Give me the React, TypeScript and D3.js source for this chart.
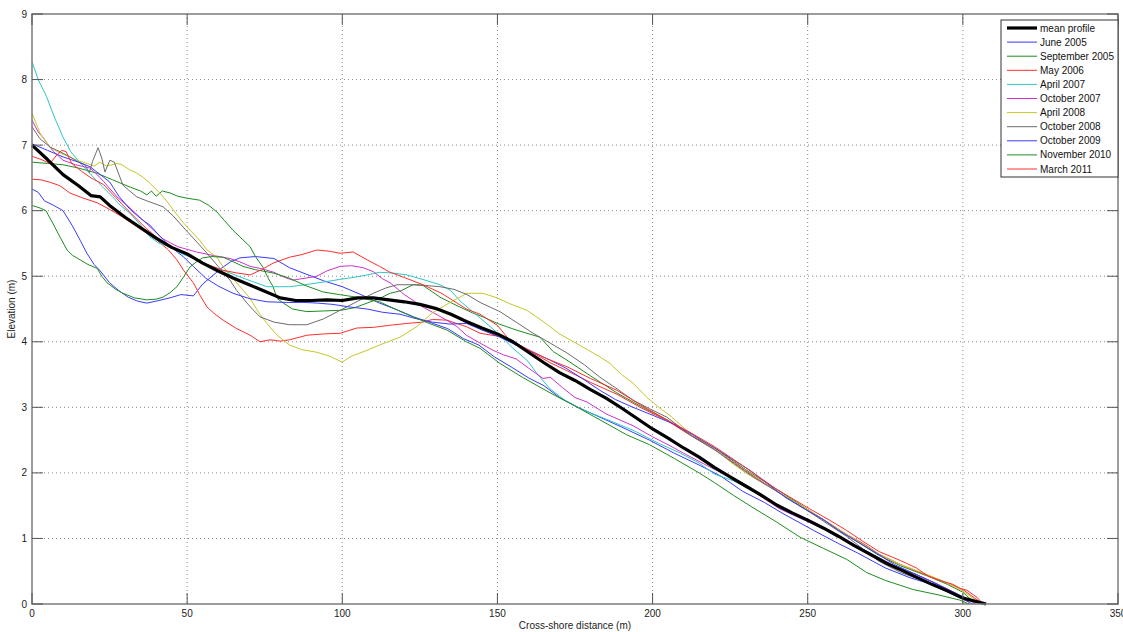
import React from "react";
import * as d3 from "d3";

type Pt = [number, number];

// Cross-shore beach profiles: [distance (m), elevation (m)]
const meanProfile: Pt[] = [[0,7.0],[5,6.78],[10,6.55],[15,6.38],[19,6.23],[22,6.21],[25,6.08],[30,5.9],[35,5.74],[40,5.58],[45,5.44],[50,5.34],[55,5.2],[60,5.08],[65,4.97],[70,4.87],[75,4.77],[80,4.67],[85,4.63],[90,4.63],[95,4.64],[100,4.63],[105,4.67],[110,4.67],[115,4.64],[120,4.61],[125,4.57],[130,4.51],[135,4.42],[140,4.31],[145,4.21],[150,4.12],[155,4.0],[160,3.84],[165,3.68],[170,3.53],[175,3.41],[180,3.27],[185,3.14],[190,2.99],[195,2.83],[200,2.67],[205,2.53],[210,2.38],[215,2.24],[220,2.08],[225,1.94],[230,1.8],[235,1.66],[240,1.51],[245,1.39],[250,1.28],[255,1.16],[260,1.03],[265,0.89],[270,0.76],[275,0.63],[280,0.52],[285,0.41],[290,0.3],[295,0.2],[300,0.09],[305,0.03],[307.5,0]];

const june2005: Pt[] = [[0,6.33],[2,6.28],[4,6.15],[7,6.08],[10,6.0],[13,5.77],[15.5,5.55],[17.7,5.35],[20,5.18],[22,5.08],[25,4.9],[28,4.78],[31,4.68],[34,4.62],[37,4.59],[40,4.62],[44.5,4.67],[48,4.72],[52,4.7],[55,4.88],[58,5.0],[61,5.12],[64,5.22],[67,5.28],[72,5.3],[78,5.27],[83,5.13],[89,5.02],[94,4.93],[100,4.84],[106,4.72],[112,4.59],[117,4.5],[123,4.38],[128,4.3],[134,4.2],[139,4.05],[144,3.95],[149,3.77],[155,3.6],[160,3.45],[165,3.33],[170,3.15],[176,3.0],[183,2.85],[190,2.7],[199,2.5],[207,2.3],[215,2.12],[222,1.95],[229,1.72],[236,1.55],[242,1.38],[252,1.12],[260,0.92],[266,0.78],[275,0.55],[283,0.4],[290,0.3],[296,0.16],[301,0.05],[303,0]];

const september2005: Pt[] = [[0,6.74],[5,6.72],[10,6.7],[15,6.65],[21,6.57],[26,6.47],[31.6,6.36],[35,6.3],[37,6.24],[38.5,6.3],[40,6.22],[42,6.3],[44.5,6.27],[47,6.22],[50,6.19],[54,6.16],[57,6.08],[59.6,5.98],[62,5.85],[64.8,5.7],[67,5.6],[70.3,5.45],[72,5.3],[74.4,5.14],[76,4.98],[77.7,4.84],[79,4.66],[81,4.59],[84,4.5],[88.6,4.46],[94,4.47],[99.3,4.48],[104,4.52],[108,4.59],[112,4.66],[115.4,4.74],[119,4.78],[122.8,4.87],[126,4.86],[131.5,4.68],[137,4.55],[142,4.44],[145.3,4.38],[150,4.28],[156,4.18],[163.7,4.07],[168,3.85],[172.4,3.72],[180,3.48],[188.5,3.22],[196,3.02],[204.6,2.81],[212,2.58],[220,2.38],[230,2.05],[240,1.75],[250.7,1.42],[262.6,1.05],[273,0.74],[280,0.58],[289,0.42],[295,0.3],[300,0.18],[303,0.05]];

const may2006: Pt[] = [[0,6.48],[3,6.47],[6,6.43],[9,6.38],[12.2,6.27],[16,6.2],[21,6.12],[25,6.02],[29.3,5.9],[34,5.75],[40.3,5.55],[44,5.4],[46.7,5.25],[49,5.08],[52,4.9],[54,4.72],[56.4,4.53],[59,4.42],[61.6,4.33],[66,4.2],[70.3,4.1],[73.5,4.0],[76.7,4.03],[80,4.01],[83,4.03],[88.6,4.1],[94,4.12],[99.3,4.13],[104.7,4.21],[110,4.22],[115,4.25],[120.8,4.28],[126,4.3],[129,4.34],[133.7,4.33],[140,4.23],[144.4,4.13],[150.8,4.08],[156,3.98],[161.5,3.83],[167,3.68],[172.4,3.56],[180,3.38],[188.5,3.2],[196,3.0],[204.6,2.8],[212,2.58],[220,2.36],[230,2.03],[240,1.72],[250.7,1.41],[258,1.2],[262.6,1.06],[268,0.92],[273,0.76],[280,0.6],[289,0.43],[295,0.32],[300,0.22],[305,0.05],[306,0]];

const april2007: Pt[] = [[0,8.27],[2,8.0],[4.7,7.74],[7,7.45],[10,7.12],[12.5,6.9],[15.5,6.73],[18,6.6],[21,6.45],[23,6.35],[26,6.21],[28.5,6.08],[31.6,5.96],[35,5.78],[38,5.6],[41,5.5],[44.5,5.45],[48,5.35],[53,5.25],[58,5.15],[63.8,5.05],[67,4.99],[71,4.92],[75.7,4.84],[80,4.84],[83,4.84],[88,4.87],[93.8,4.91],[99,4.95],[104.7,4.99],[108,5.02],[112,5.06],[116,5.05],[120.8,5.02],[126,4.95],[131.5,4.87],[135,4.78],[138,4.62],[143,4.42],[146,4.3],[150.8,4.1],[155,3.9],[159.5,3.72],[163,3.5],[167,3.28],[172,3.1],[177.6,2.96],[185,2.82],[193.7,2.65],[202,2.45],[209,2.3],[215,2.15],[220,1.98],[226,1.88],[233,1.72],[241,1.46],[248,1.3],[255,1.15],[262,0.98],[270,0.78],[278,0.58],[285,0.45],[292,0.3],[298,0.16],[302,0.04]];

const october2007: Pt[] = [[0,7.38],[2,7.2],[3.5,7.12],[4.8,7.03],[7,6.9],[10,6.77],[14,6.7],[18.7,6.65],[21,6.55],[23,6.45],[27.4,6.21],[31.6,6.04],[37,5.8],[42.2,5.57],[47,5.45],[53,5.37],[58,5.32],[63.8,5.27],[67,5.22],[70.3,5.15],[73.5,5.12],[78,5.06],[81,4.99],[84,4.94],[88,4.97],[91.8,5.0],[95,5.08],[99.3,5.15],[103,5.16],[106.7,5.13],[110,5.07],[113,4.96],[115.4,4.9],[120,4.72],[126,4.53],[131,4.4],[134.7,4.3],[137,4.23],[140,4.1],[144.4,3.98],[148.6,3.87],[152,3.8],[156,3.74],[160,3.6],[164.7,3.44],[167,3.46],[171,3.3],[175,3.15],[178.9,3.08],[185,2.9],[193.7,2.72],[200,2.55],[205,2.43],[210,2.3],[218,2.1],[226,1.92],[233,1.7],[241,1.45],[248,1.3],[255,1.15],[262,0.98],[270,0.78],[278,0.58],[285,0.45],[292,0.3],[298,0.16],[302,0.03]];

const april2008: Pt[] = [[0,7.49],[2.6,7.18],[5.8,6.97],[9,6.88],[12.2,6.82],[15,6.76],[17.7,6.72],[20,6.68],[21.9,6.74],[24,6.68],[27.4,6.72],[29,6.7],[31.6,6.62],[33.5,6.58],[35.8,6.51],[38,6.42],[40.3,6.31],[42.5,6.2],[44.5,6.08],[46.5,5.95],[48.7,5.82],[51,5.7],[54,5.55],[56.4,5.4],[59.6,5.29],[61.6,5.14],[65,4.95],[68,4.79],[70.3,4.66],[73,4.45],[75.7,4.28],[79,4.1],[83,3.95],[87,3.88],[91.8,3.84],[96,3.78],[99.9,3.69],[103,3.78],[108,3.87],[113,3.97],[118.6,4.07],[124,4.23],[129,4.44],[134,4.58],[140.2,4.74],[145.3,4.74],[149.9,4.67],[154,4.58],[159.5,4.48],[165,4.3],[170,4.12],[173.4,4.03],[179,3.88],[183,3.77],[186.3,3.67],[190,3.5],[193.7,3.37],[198,3.16],[202,3.0],[206,2.86],[211,2.65],[215,2.52],[220.7,2.35],[225,2.17],[230,2.0],[240,1.72],[250.7,1.42],[262.6,1.06],[273,0.76],[280,0.6],[289,0.44],[295,0.32],[300,0.2],[304,0.06],[305,0]];

const october2008: Pt[] = [[0,7.28],[2.5,7.1],[5.8,6.97],[9,6.9],[12.2,6.82],[15,6.74],[17,6.7],[18.5,6.58],[19.5,6.75],[21.3,6.96],[22.5,6.8],[23.5,6.59],[25.1,6.77],[26.5,6.74],[29.3,6.39],[31,6.32],[33.8,6.21],[37,6.15],[42.2,6.06],[45.5,5.92],[48.7,5.75],[52,5.58],[56.4,5.35],[60,5.15],[63.8,4.94],[66,4.78],[69.3,4.59],[71,4.5],[73.5,4.38],[78,4.3],[83,4.26],[88.6,4.26],[94,4.35],[99.3,4.48],[105,4.62],[110,4.74],[114,4.82],[117.6,4.87],[124,4.87],[131.5,4.84],[136,4.8],[140.2,4.72],[144.4,4.6],[150.8,4.46],[156,4.3],[161.5,4.13],[167,3.98],[172.4,3.83],[178,3.65],[183,3.46],[188,3.3],[193.7,3.11],[199,2.98],[204.6,2.85],[213,2.55],[220,2.35],[226,2.15],[233,1.92],[240,1.72],[250.7,1.4],[262.6,1.03],[273,0.65],[280,0.48],[289,0.32],[295,0.2],[300,0.1],[303,0.03],[304,0]];

const october2009: Pt[] = [[0,7.02],[5,6.92],[10,6.82],[15,6.74],[18.7,6.67],[22,6.55],[25,6.44],[28,6.22],[31.6,6.02],[35,5.88],[38,5.78],[41,5.62],[43.5,5.5],[46,5.4],[48.7,5.3],[52,5.15],[56,4.97],[60,4.85],[64.8,4.74],[70,4.66],[75.7,4.61],[82,4.6],[88,4.6],[92,4.59],[97,4.57],[102.5,4.53],[108,4.5],[113,4.45],[118.6,4.42],[124,4.35],[129,4.3],[134.7,4.27],[140,4.28],[145,4.18],[150.8,4.07],[156,3.95],[161,3.85],[167,3.72],[172,3.6],[178,3.42],[183,3.26],[188,3.12],[193.7,3.0],[200,2.88],[206.6,2.75],[213,2.58],[220,2.38],[226,2.2],[232,2.02],[238,1.8],[243,1.62],[249,1.45],[255,1.29],[260,1.12],[266,0.95],[272,0.78],[278,0.6],[284,0.47],[290,0.34],[296,0.2],[301,0.09],[304,0.02]];

const november2010: Pt[] = [[0,6.08],[2.6,6.04],[4.5,6.0],[6.8,5.8],[9,5.6],[11.3,5.4],[13,5.32],[15.5,5.25],[18,5.18],[21,5.12],[22.5,5.0],[24.2,4.9],[27,4.8],[29.3,4.74],[33,4.67],[37,4.64],[40,4.65],[42.2,4.68],[44.5,4.75],[46.7,4.84],[49,5.0],[50.9,5.14],[53,5.22],[55,5.28],[58,5.3],[61.6,5.29],[64,5.24],[68,5.15],[72,5.1],[77.7,5.05],[83,4.97],[88,4.86],[93.8,4.76],[99,4.72],[104.7,4.68],[112,4.61],[117,4.5],[122.8,4.38],[128,4.28],[133.7,4.18],[140,4.0],[144.4,3.9],[150.8,3.67],[158,3.46],[167,3.22],[175,3.02],[183,2.81],[191.7,2.58],[199,2.43],[207,2.22],[215,2.0],[220,1.85],[226,1.66],[232,1.48],[240,1.25],[247.5,1.02],[255,0.85],[262.6,0.68],[269,0.48],[275,0.36],[284,0.22],[292,0.14],[299,0.06],[302,0]];

const march2011: Pt[] = [[0,6.83],[3,6.78],[5.8,6.72],[8,6.85],[9.6,6.92],[11,6.9],[12.8,6.72],[16,6.6],[19,6.5],[23,6.4],[27,6.2],[31,6.0],[37,5.72],[42,5.52],[47,5.4],[53,5.25],[57,5.17],[61.6,5.09],[66,5.05],[70.3,5.02],[74,5.1],[77.7,5.2],[83,5.29],[87,5.33],[91.8,5.4],[96,5.38],[99.3,5.35],[103.5,5.37],[108,5.25],[112,5.15],[115.4,5.06],[120,4.98],[126,4.87],[132,4.74],[137,4.59],[140,4.5],[144.4,4.42],[150,4.25],[154,4.02],[160,3.88],[166,3.74],[172.4,3.62],[180,3.44],[188.5,3.26],[196,3.04],[204.6,2.81],[212,2.62],[220,2.4],[230,2.08],[240,1.75],[250.7,1.45],[257,1.28],[262.6,1.12],[268,0.95],[273,0.8],[280,0.66],[285,0.55],[289,0.42],[294,0.34],[296.8,0.3],[299,0.24],[301.3,0.21],[304.6,0.1],[306.5,0]];

const seriesNames = ["mean profile","June 2005","September 2005","May 2006","April 2007","October 2007","April 2008","October 2008","October 2009","November 2010","March 2011"];
const seriesData: Pt[][] = [meanProfile, june2005, september2005, may2006, april2007, october2007, april2008, october2008, october2009, november2010, march2011];
const seriesColors = ["#000000","#3a3aff","#1f8c1f","#ff2e2e","#2ec6c6","#cc33cc","#c6c62a","#6c6c6c","#3a3aff","#1f8c1f","#ff2e2e"];

const xTicks = [0, 50, 100, 150, 200, 250, 300, 350];
const yTicks = [0, 1, 2, 3, 4, 5, 6, 7, 8, 9];

const W = 1123, H = 632;
const left = 32, right = 1118, top = 14, bottom = 604;
const font = "'Liberation Sans', Arial, Helvetica, sans-serif";

export default function App() {
  const x = d3.scaleLinear().domain([0, 350]).range([left, right]);
  const y = d3.scaleLinear().domain([0, 9]).range([bottom, top]);
  const line = d3.line<Pt>().x(d => x(d[0])).y(d => y(d[1]));
  const tickLen = 11;
  const axisColor = "#7c7c7c";
  const gridColor = "#8a8a8a";

  // draw thin profiles first, mean on top
  const order = [1, 2, 3, 4, 5, 6, 7, 8, 9, 10, 0];

  const legX = 1001, legY = 20, legW = 117, legH = 157, rowH = 14.1;

  return (
    <svg width={W} height={H} style={{ position: "absolute", left: 0, top: 0, background: "#fff" }} fontFamily={font}>
      <rect x={0} y={0} width={W} height={H} fill="#fff" />
      {/* grid */}
      {xTicks.slice(1, -1).map(t => (
        <line key={"gx" + t} x1={x(t)} x2={x(t)} y1={top} y2={bottom} stroke={gridColor} strokeWidth={1} strokeDasharray="1,3" />
      ))}
      {yTicks.slice(1, -1).map(t => (
        <line key={"gy" + t} x1={left} x2={right} y1={y(t)} y2={y(t)} stroke={gridColor} strokeWidth={1} strokeDasharray="1,3" />
      ))}
      {/* profiles */}
      {order.map(i => (
        <path key={seriesNames[i]} d={line(seriesData[i]) || ""} fill="none" stroke={seriesColors[i]}
          strokeWidth={i === 0 ? 3.2 : 1} strokeLinejoin="round" />
      ))}
      {/* axes box */}
      <rect x={left} y={top} width={right - left} height={bottom - top} fill="none" stroke={axisColor} strokeWidth={1.5} />
      {/* ticks */}
      {xTicks.map(t => (
        <g key={"xt" + t}>
          <line x1={x(t)} x2={x(t)} y1={bottom} y2={bottom - tickLen} stroke="#555" strokeWidth={1} />
          <line x1={x(t)} x2={x(t)} y1={top} y2={top + tickLen} stroke="#555" strokeWidth={1} />
          <text x={x(t)} y={617} fontSize={10} textAnchor="middle" fill="#222">{t}</text>
        </g>
      ))}
      {yTicks.map(t => (
        <g key={"yt" + t}>
          <line x1={left} x2={left + tickLen} y1={y(t)} y2={y(t)} stroke="#555" strokeWidth={1} />
          <line x1={right} x2={right - tickLen} y1={y(t)} y2={y(t)} stroke="#555" strokeWidth={1} />
          <text x={27} y={y(t) + 3.5} fontSize={10} textAnchor="end" fill="#222">{t}</text>
        </g>
      ))}
      {/* axis titles */}
      <text x={(left + right) / 2} y={629} fontSize={10} textAnchor="middle" fill="#222">Cross-shore distance (m)</text>
      <text transform={`translate(15,${(top + bottom) / 2}) rotate(-90)`} fontSize={10} textAnchor="middle" fill="#222">Elevation (m)</text>
      {/* legend */}
      <rect x={legX} y={legY} width={legW} height={legH} fill="#fff" stroke="#333" strokeWidth={1} />
      {seriesNames.map((name, i) => {
        const yy = legY + 8 + i * rowH;
        return (
          <g key={"lg" + name}>
            <line x1={1007} x2={1037} y1={yy} y2={yy} stroke={seriesColors[i]} strokeWidth={i === 0 ? 3.2 : 1} />
            <text x={1040} y={yy + 3.5} fontSize={10} fill="#111">{name}</text>
          </g>
        );
      })}
    </svg>
  );
}
